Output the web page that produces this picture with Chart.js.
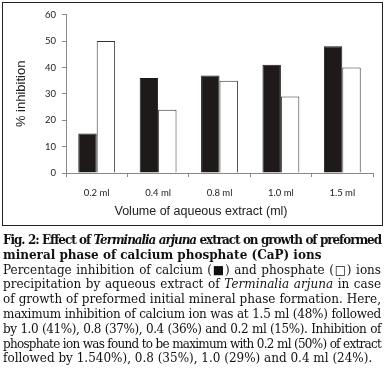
<!DOCTYPE html>
<html>
<head>
<meta charset="utf-8">
<script src="https://cdn.jsdelivr.net/npm/chart.js@4"></script>
<style>
    body {
        margin: 0;
        background: #fff;
        width: 384px;
        height: 372px;
        position: relative;
        overflow: hidden;
    }

    #box {
        position: absolute;
        left: 2px;
        top: 2px;
        width: 379px;
        height: 222px;
        border: 1.5px solid #222;
    }

    #box canvas {
        position: absolute;
        left: 0;
        top: 0;
    }

    #xtitle {
        position: absolute;
        left: 0;
        top: 201px;
        width: 396px;
        text-align: center;
        font-family: "Liberation Sans", sans-serif;
        font-size: 12.5px;
        color: #222;
    }

    #caption {
        position: absolute;
        left: 3px;
        top: 233px;
        width: 378px;
        font-family: "DejaVu Serif", serif;
        font-size: 12px;
        line-height: 14.8px;
        color: #111;
    }

    #caption .ln {
        display: block;
        text-align: justify;
        text-align-last: justify;
        white-space: nowrap;
    }

    #caption .left {
        text-align-last: left;
    }
</style>
</head>
<body>

<div id="box">
    <canvas id="chart" width="379" height="222"></canvas>
    <div id="xtitle">Volume of aqueous extract (ml)</div>
</div>

<div id="caption">
    <span class="ln"><span><b>Fig. 2: Effect of <i>Terminalia arjuna</i> extract on growth of preformed</b></span></span>
    <span class="ln left"><span><b>mineral phase of calcium phosphate (CaP) ions</b></span></span>
    <span class="ln"><span>Percentage inhibition of calcium (&#9632;) and phosphate (&#9633;) ions</span></span>
    <span class="ln"><span>precipitation by aqueous extract of <i>Terminalia arjuna</i> in case</span></span>
    <span class="ln"><span>of growth of preformed initial mineral phase formation. Here,</span></span>
    <span class="ln"><span>maximum inhibition of calcium ion was at 1.5 ml (48%) followed</span></span>
    <span class="ln"><span>by 1.0 (41%), 0.8 (37%), 0.4 (36%) and 0.2 ml (15%). Inhibition of</span></span>
    <span class="ln"><span>phosphate ion was found to be maximum with 0.2 ml (50%) of extract</span></span>
    <span class="ln left"><span>followed by 1.540%), 0.8 (35%), 1.0 (29%) and 0.4 ml (24%).</span></span>
</div>

<script>
const categories = ["0.2 ml", "0.4 ml", "0.8 ml", "1.0 ml", "1.5 ml"];

const calcium = [15, 36, 37, 41, 48];

const phosphate = [50, 24, 35, 29, 40];

const yTicks = [0, 10, 20, 30, 40, 50, 60];

document.addEventListener(

    "DOMContentLoaded",

    () => {

        /*
         * squeeze caption lines that are too wide
         */

        document.querySelectorAll("#caption .ln").forEach(line => {

            const inner = line.firstElementChild;
            const keep = line.style.textAlignLast;

            line.style.textAlignLast = "left";

            let spacing = 0;

            while (inner.getBoundingClientRect().width > 377 && spacing > -2) {
                spacing -= 0.05;
                inner.style.letterSpacing = spacing + "px";
            }

            line.style.textAlignLast = keep;

        });


        const canvas =
            document.getElementById(
                "chart"
            );

        new Chart(

            canvas,

            {

                type: "bar",

                data: {

                    labels: categories,

                    datasets: [

                        {
                            label: "Calcium",
                            data: calcium,
                            backgroundColor: "#1e1a1a",
                            borderColor: "#1e1a1a",
                            borderWidth: 1
                        },

                        {
                            label: "Phosphate",
                            data: phosphate,
                            backgroundColor: "#ffffff",
                            borderColor: "#333",
                            borderWidth: 1
                        }

                    ]

                },

                options: {

                    responsive: false,
                    animation: false,
                    devicePixelRatio: 1,

                    layout: {
                        padding: { left: 0, right: 9, top: 6, bottom: 0 }
                    },

                    plugins: {
                        legend: { display: false },
                        tooltip: { enabled: false }
                    },

                    datasets: {
                        bar: {
                            categoryPercentage: 0.6,
                            barPercentage: 1
                        }
                    },

                    scales: {

                        x: {
                            grid: {
                                drawOnChartArea: false,
                                drawTicks: true,
                                tickLength: 4,
                                color: "#888"
                            },
                            border: { color: "#888", width: 1 },
                            ticks: {
                                color: "#222",
                                font: { family: "Lato", size: 9.5 },
                                padding: 10
                            },
                            afterFit: s => { s.height = 52; }
                        },

                        y: {
                            min: 0,
                            max: 60,
                            afterBuildTicks: s => {
                                s.ticks = yTicks.map(v => ({ value: v }));
                            },
                            grid: {
                                drawOnChartArea: false,
                                drawTicks: true,
                                tickLength: 4,
                                color: "#888"
                            },
                            border: { color: "#888", width: 1 },
                            ticks: {
                                color: "#222",
                                font: { family: "Lato", size: 9.5 },
                                padding: 6
                            },
                            title: {
                                display: true,
                                text: "% inhibition",
                                color: "#222",
                                font: { family: "Liberation Sans", size: 13 },
                                padding: { top: 11, bottom: 4 }
                            },
                            afterFit: s => { s.width = 63; }
                        }

                    }

                }

            }

        );

    }

);
</script>
</body>
</html>
